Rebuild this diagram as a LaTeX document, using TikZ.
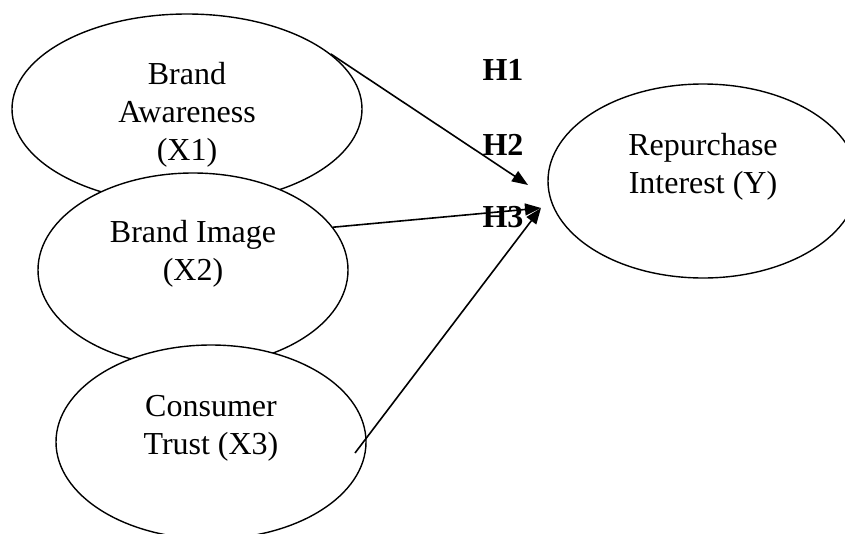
\documentclass[tikz,border=0pt]{standalone}
\usepackage{fontspec}
\setmainfont{Liberation Serif}
\usetikzlibrary{shapes.geometric,arrows.meta}

\begin{document}
\begin{tikzpicture}[x=1pt,y=-1pt,
  oval/.style={ellipse,draw,line width=1.4pt,fill=white,inner sep=0pt},
  lbl/.style={align=center,font=\fontsize{32}{38}\selectfont},
  hyp/.style={font=\fontsize{32}{38}\selectfont\bfseries},
  link/.style={line width=1.6pt,-{Triangle[length=16pt,width=12pt]}}]
\useasboundingbox (0,0) rectangle (845,533);
\node[oval,minimum width=350pt,minimum height=190pt] (aware) at (187,109) {};
\node[oval,minimum width=310pt,minimum height=194pt] (image) at (193,270) {};
\node[oval,minimum width=310pt,minimum height=194pt] (trust) at (211,442) {};
\node[oval,minimum width=310pt,minimum height=194pt] (rep) at (703,181) {};
\node[lbl] (awaretxt) at ([yshift=-6pt]aware.center) {Brand\\Awareness\\(X1)};
\node[lbl] (imagetxt) at ([yshift=16pt]image.center) {Brand Image\\(X2)};
\node[lbl] (trusttxt) at ([yshift=14pt]trust.center) {Consumer\\Trust (X3)};
\node[lbl] (reptxt) at ([yshift=14pt]rep.center) {Repurchase\\Interest (Y)};
\node[hyp] (h1) at (503,70) {H1};
\node[hyp] (h2) at (503,145) {H2};
\node[hyp] (h3) at (503,217) {H3};
\coordinate (tip1) at (528,185);
\coordinate (tip2) at (541,208);
\draw[link] (aware.21) -- (tip1);
\draw[link] (image.17) -- (tip2);
\draw[link] ([shift={(144pt,-11pt)}]trust.center) -- (tip2);
\end{tikzpicture}
\end{document}
